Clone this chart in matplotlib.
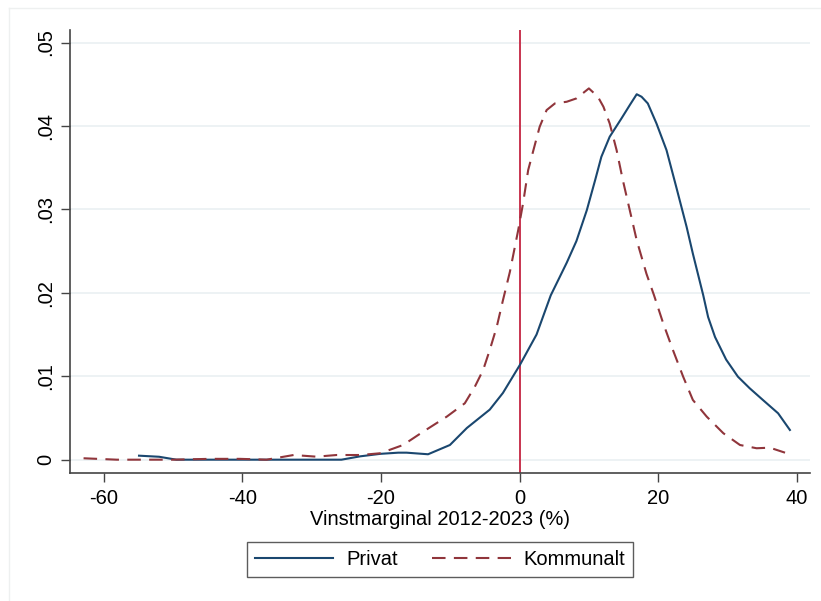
import matplotlib
matplotlib.use("Agg")
import matplotlib.pyplot as plt
from matplotlib.lines import Line2D

# Kernel density estimates
privat_x = [-54.9, -52.0, -49.5, -45.0, -40.0, -35.0, -30.0, -25.7, -23.0, -20.1, -17.5, -16.3,
            -13.2, -10.05, -7.6, -4.3, -2.4, 0.05, 2.45, 4.5, 6.8, 8.2, 9.7, 10.9, 11.8, 13.0,
            14.7, 15.9, 16.9, 17.6, 18.5, 19.75, 21.2, 22.6, 24.1, 25.0, 26.5, 27.2, 28.2,
            29.8, 31.5, 33.2, 35.1, 37.3, 39.0]
privat_y = [0.00048, 0.00035, 0.0, 0.0, 0.0, 0.0, 0.0, 0.0, 0.0004, 0.0007, 0.00084, 0.00084,
            0.00065, 0.00176, 0.0038, 0.006, 0.008, 0.01136, 0.0150, 0.0197, 0.0236, 0.0262,
            0.0299, 0.0335, 0.0363, 0.0387, 0.0409, 0.0425, 0.0438, 0.0435, 0.0427, 0.0403,
            0.0371, 0.0327, 0.0279, 0.0247, 0.0197, 0.0171, 0.0147, 0.0120, 0.00995, 0.00856,
            0.00716, 0.00556, 0.00356]

kommunalt_x = [-62.9, -58.1, -50.0, -44.7, -40.3, -36.5, -32.6, -29.3, -26.4, -23.0, -20.1,
               -16.8, -13.9, -10.5, -7.9, -6.45, -5.25, -4.3, -3.3, -2.4, -1.4, -0.2, 0.5,
               1.24, 2.0, 2.9, 3.9, 5.1, 6.8, 8.2, 10.0, 11.3, 12.1, 13.0, 14.0, 14.9, 15.9,
               16.9, 18.3, 19.4, 20.7, 22.1, 23.6, 25.0, 27.0, 29.4, 31.8, 34.2, 36.1, 38.3]
kommunalt_y = [0.00017, 0.0, 0.0, 0.0001, 0.0001, 0.0, 0.00056, 0.00036, 0.00056, 0.00056,
               0.00077, 0.00176, 0.00336, 0.00516, 0.00676, 0.00875, 0.01076, 0.01315,
               0.0159, 0.0191, 0.0225, 0.0275, 0.0307, 0.0347, 0.0371, 0.0399, 0.0419,
               0.0427, 0.0429, 0.0433, 0.0445, 0.0435, 0.0423, 0.0403, 0.0371, 0.0335,
               0.0299, 0.0263, 0.0223, 0.0197, 0.0164, 0.0132, 0.00995, 0.00716, 0.00516,
               0.00317, 0.00176, 0.00137, 0.00144, 0.00084]

x_ticks = [-60, -40, -20, 0, 20, 40]
y_ticks = [0, 0.01, 0.02, 0.03, 0.04, 0.05]
y_ticklabels = ["0", ".01", ".02", ".03", ".04", ".05"]
series_labels = ["Privat", "Kommunalt"]
x_label = "Vinstmarginal 2012-2023 (%)"

plt.rcParams['font.family'] = ['Liberation Sans', 'DejaVu Sans']
plt.rcParams['axes.unicode_minus'] = False

fig = plt.figure(figsize=(8.21, 6.01), dpi=100)
ax = fig.add_axes([69.7 / 821, 1 - 472.7 / 601, (810 - 69.7) / 821, (472.7 - 30) / 601])

navy = "#1a476f"
maroon = "#90353b"
ax.plot(privat_x, privat_y, color=navy, lw=1.5, label=series_labels[0], zorder=3)
ax.plot(kommunalt_x, kommunalt_y, color=maroon, lw=1.5, ls=(0, (6.5, 4)),
        label=series_labels[1], zorder=3)
ax.axvline(0, color="#c8344f", lw=1.4, zorder=2)

ax.set_xlim(-64.9, 41.9)
ax.set_ylim(-0.00156, 0.0515)
ax.set_xticks(x_ticks)
ax.set_yticks(y_ticks)
ax.set_yticklabels(y_ticklabels, rotation=90, va="center")
ax.tick_params(axis="both", labelsize=14.5, length=6.5, width=1, color="#444444")
ax.tick_params(axis="x", pad=5)
ax.tick_params(axis="y", pad=4)
ax.grid(axis="y", color="#eaf0f2", lw=1.2)
ax.set_axisbelow(True)
for s in ["top", "right"]:
    ax.spines[s].set_visible(False)
for s in ["left", "bottom"]:
    ax.spines[s].set_color("#444444")
    ax.spines[s].set_linewidth(1.2)
ax.set_xlabel(x_label, fontsize=14.5, labelpad=1.5)

leg = fig.legend(loc="center", bbox_to_anchor=(440 / 821, 1 - 559.5 / 601), ncol=2,
                 fontsize=14.5, frameon=True, fancybox=False, edgecolor="#333333",
                 handlelength=3.9, columnspacing=1.7, borderpad=0.4, handletextpad=0.65,
                 borderaxespad=0)
leg.get_frame().set_linewidth(1.0)

# faint outer graph-region border
fig.add_artist(Line2D([9 / 821, 1], [1 - 8 / 601, 1 - 8 / 601], color="#eef0f0", lw=1,
                      transform=fig.transFigure))
fig.add_artist(Line2D([9 / 821, 9 / 821], [0, 1 - 8 / 601], color="#eef0f0", lw=1,
                      transform=fig.transFigure))

fig.savefig("out.png", dpi=100)
